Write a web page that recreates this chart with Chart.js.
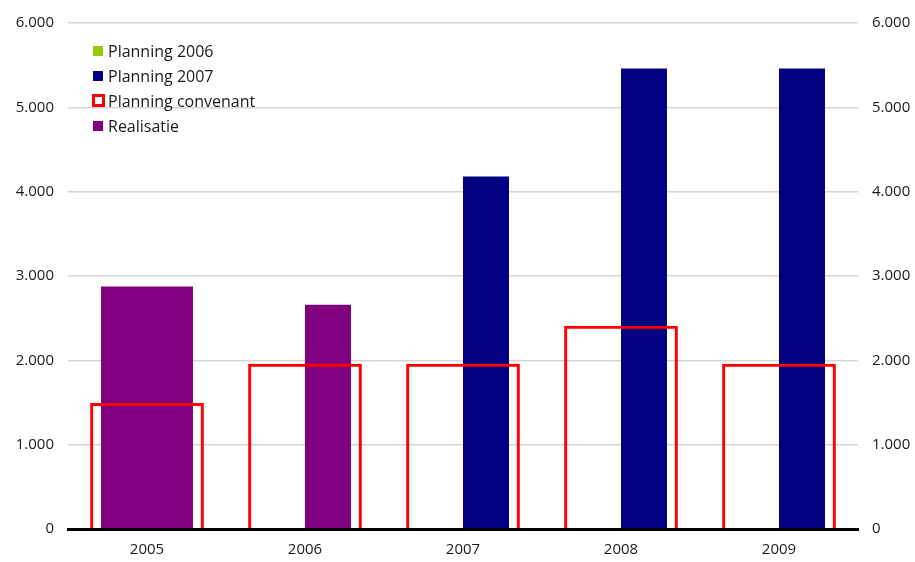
<!DOCTYPE html>
<html lang="nl">
<head>
<meta charset="utf-8">
<title>Planning en realisatie 2005-2009</title>
<script src="https://cdn.jsdelivr.net/npm/chart.js@4.4.1/dist/chart.umd.min.js"></script>
<style>
    html, body { margin: 0; padding: 0; background: #fff; }
    .wrap { position: relative; width: 915px; height: 562px; }
    #legend {
        position: absolute; left: 93px; top: 38px;
        font-family: "Open Sans", sans-serif; font-size: 16px; color: #1a1a1a;
    }
    #legend .item { display: flex; align-items: center; height: 25px; }
    #legend .box { width: 10px; height: 10px; margin-right: 5px; box-sizing: border-box; }
</style>
</head>
<body>
<div class="wrap">
    <canvas id="convenantChart" width="915" height="562"></canvas>
    <div id="legend"></div>
</div>
<script>
const years = ['2005', '2006', '2007', '2008', '2009'];
const planning2006 = [null, 0, 0, 0, 0];
const planning2007 = [null, null, 4180, 5460, 5460];
const planningConvenant = [1495, 1960, 1960, 2410, 1960];
const realisatie = [2875, 2660, null, null, null];
const yTicks = [0, 1000, 2000, 3000, 4000, 5000, 6000];

const colors = {
    planning2006: '#99cc00',
    planning2007: '#000080',
    convenant: '#ff0000',
    realisatie: '#800080',
};

function formatNl(value) {
    return String(value).replace(/\B(?=(\d{3})+(?!\d))/g, '.');
}

const tickFont = { family: '"Open Sans", sans-serif', size: 15 };

document.addEventListener('DOMContentLoaded', function () {
    const canvas = document.getElementById('convenantChart');

    new Chart(canvas, {
        type: 'bar',
        data: {
            labels: years,
            datasets: [
                {
                    label: 'Planning 2006',
                    data: planning2006,
                    backgroundColor: colors.planning2006,
                    stack: 'p2006',
                },
                {
                    label: 'Planning 2007',
                    data: planning2007,
                    backgroundColor: colors.planning2007,
                    stack: 'main',
                },
                {
                    label: 'Planning convenant',
                    data: planningConvenant,
                    backgroundColor: 'rgba(0,0,0,0)',
                    borderColor: colors.convenant,
                    borderWidth: 3,
                    grouped: false,
                    categoryPercentage: 0.72,
                    order: -1,
                },
                {
                    label: 'Realisatie',
                    data: realisatie,
                    backgroundColor: colors.realisatie,
                    stack: 'main',
                },
            ],
        },
        options: {
            responsive: false,
            animation: false,
            layout: { padding: { top: 23, left: 0, right: 0, bottom: 0 } },
            datasets: {
                bar: {
                    skipNull: true,
                    barPercentage: 1,
                    categoryPercentage: 0.582,
                },
            },
            plugins: {
                legend: { display: false },
                tooltip: { enabled: false },
            },
            scales: {
                x: {
                    grid: { display: false, drawTicks: false },
                    border: { display: true, color: '#000', width: 3, z: 1 },
                    ticks: { font: tickFont, color: '#1a1a1a', padding: 12 },
                    afterFit(scale) { scale.height = 33; },
                },
                y: {
                    position: 'left',
                    min: 0,
                    max: 6000,
                    afterBuildTicks(scale) { scale.ticks = yTicks.map(v => ({ value: v })); },
                    grid: { color: '#d6d6d6', lineWidth: 1.5, drawTicks: false },
                    border: { display: false },
                    ticks: { font: tickFont, color: '#1a1a1a', padding: 14, callback: v => formatNl(v) },
                    afterFit(scale) { scale.width = 68; },
                },
                y1: {
                    position: 'right',
                    min: 0,
                    max: 6000,
                    afterBuildTicks(scale) { scale.ticks = yTicks.map(v => ({ value: v })); },
                    grid: { display: false, drawTicks: false },
                    border: { display: false },
                    ticks: { font: tickFont, color: '#1a1a1a', padding: 14, callback: v => formatNl(v) },
                    afterFit(scale) { scale.width = 57; },
                },
            },
        },
    });

    // legend in the plot corner, in the original series order
    const legendItems = [
        { label: 'Planning 2006', fill: colors.planning2006 },
        { label: 'Planning 2007', fill: colors.planning2007 },
        { label: 'Planning convenant', outline: colors.convenant },
        { label: 'Realisatie', fill: colors.realisatie },
    ];
    const legend = document.getElementById('legend');
    legendItems.forEach(item => {
        const row = document.createElement('div');
        row.className = 'item';
        const box = document.createElement('span');
        box.className = 'box';
        if (item.outline) {
            box.style.width = '13px';
            box.style.height = '13px';
            box.style.marginLeft = '-1px';
            box.style.marginRight = '3px';
            box.style.border = '3px solid ' + item.outline;
            box.style.background = '#fff';
        } else {
            box.style.background = item.fill;
        }
        const text = document.createElement('span');
        text.textContent = item.label;
        row.appendChild(box);
        row.appendChild(text);
        legend.appendChild(row);
    });
});
</script>
</body>
</html>
